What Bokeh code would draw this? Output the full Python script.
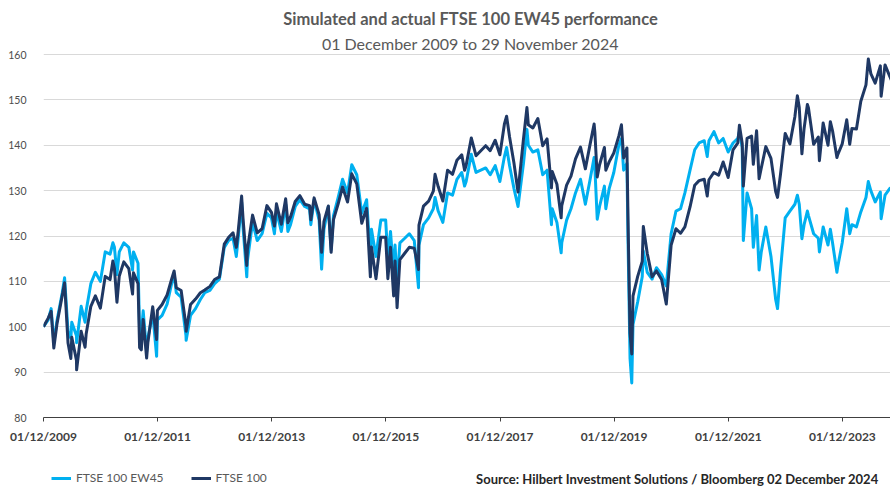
import pandas as pd
from bokeh.plotting import figure
from bokeh.layouts import column
from bokeh.models import (Range1d, FixedTicker, DatetimeTickFormatter, Label,
                          Legend, LegendItem, ColumnDataSource)
from bokeh.embed import file_html
from bokeh.resources import INLINE

# ---------------- data ----------------
dates = [
    "2009-12-01", "2009-12-31",
    "2010-01-19", "2010-02-05", "2010-02-26", "2010-03-31", "2010-04-15", "2010-05-07", "2010-05-25", "2010-05-31", "2010-06-30", "2010-07-01", "2010-07-30", "2010-08-24", "2010-08-31", "2010-09-30", "2010-10-29", "2010-11-30", "2010-12-31",
    "2011-01-31", "2011-02-18", "2011-02-28", "2011-03-16", "2011-03-31", "2011-04-29", "2011-05-31", "2011-06-24", "2011-06-30", "2011-07-29", "2011-08-08", "2011-08-19", "2011-08-31", "2011-09-22", "2011-09-30", "2011-10-31", "2011-11-25", "2011-11-30", "2011-12-30",
    "2012-01-31", "2012-02-29", "2012-03-16", "2012-03-30", "2012-04-30", "2012-05-31", "2012-06-01", "2012-06-29", "2012-07-31", "2012-08-31", "2012-09-28", "2012-10-31", "2012-11-30", "2012-12-31",
    "2013-01-31", "2013-02-28", "2013-03-28", "2013-04-18", "2013-04-30", "2013-05-22", "2013-05-31", "2013-06-24", "2013-06-28", "2013-07-31", "2013-08-30", "2013-09-30", "2013-10-31", "2013-11-29", "2013-12-18", "2013-12-31",
    "2014-01-31", "2014-02-28", "2014-03-14", "2014-03-31", "2014-04-30", "2014-05-30", "2014-06-30", "2014-07-31", "2014-08-08", "2014-08-29", "2014-09-30", "2014-10-16", "2014-10-31", "2014-11-28", "2014-12-16", "2014-12-31",
    "2015-01-30", "2015-02-27", "2015-03-31", "2015-04-27", "2015-05-29", "2015-06-30", "2015-07-31", "2015-08-24", "2015-08-31", "2015-09-29", "2015-10-30", "2015-11-30", "2015-12-14", "2015-12-31",
    "2016-01-20", "2016-01-29", "2016-02-11", "2016-02-29", "2016-03-31", "2016-04-29", "2016-05-31", "2016-06-27", "2016-06-30", "2016-07-29", "2016-08-31", "2016-09-30", "2016-10-11", "2016-10-31", "2016-11-30", "2016-12-30",
    "2017-01-31", "2017-02-28", "2017-03-31", "2017-04-18", "2017-04-28", "2017-05-31", "2017-06-30", "2017-07-31", "2017-08-31", "2017-09-29", "2017-10-31", "2017-11-30", "2017-12-29",
    "2018-01-12", "2018-01-31", "2018-02-28", "2018-03-26", "2018-04-30", "2018-05-22", "2018-05-31", "2018-06-29", "2018-07-31", "2018-08-31", "2018-09-28", "2018-10-26", "2018-10-31", "2018-11-30", "2018-12-27", "2018-12-31",
    "2019-01-31", "2019-02-28", "2019-03-29", "2019-04-30", "2019-05-31", "2019-06-28", "2019-07-26", "2019-07-31", "2019-08-15", "2019-08-30", "2019-09-30", "2019-10-09", "2019-10-31", "2019-11-29", "2019-12-31",
    "2020-01-17", "2020-01-31", "2020-02-21", "2020-02-28", "2020-03-12", "2020-03-23", "2020-03-31", "2020-04-30", "2020-05-29", "2020-06-05", "2020-06-30", "2020-07-31", "2020-08-28", "2020-09-30", "2020-10-30", "2020-11-30", "2020-12-31",
    "2021-01-29", "2021-02-26", "2021-03-31", "2021-04-30", "2021-05-28", "2021-06-30", "2021-07-19", "2021-07-30", "2021-08-31", "2021-09-30", "2021-10-29", "2021-11-30", "2021-12-31",
    "2022-01-31", "2022-02-10", "2022-02-28", "2022-03-07", "2022-03-31", "2022-04-29", "2022-05-10", "2022-05-31", "2022-06-16", "2022-06-30", "2022-07-29", "2022-08-31", "2022-09-30", "2022-10-12", "2022-10-31", "2022-11-30", "2022-12-30",
    "2023-01-31", "2023-02-16", "2023-02-28", "2023-03-17", "2023-03-31", "2023-04-21", "2023-04-28", "2023-05-31", "2023-06-30", "2023-07-07", "2023-07-31", "2023-08-31", "2023-09-15", "2023-09-29", "2023-10-27", "2023-10-31", "2023-11-30", "2023-12-29",
    "2024-01-17", "2024-01-31", "2024-02-29", "2024-03-28", "2024-04-30", "2024-05-15", "2024-05-31", "2024-06-28", "2024-07-31", "2024-08-05", "2024-08-30", "2024-09-30", "2024-10-31", "2024-11-29",
]

ftse100 = [
    100.0, 101.9,
    103.4, 95.3, 100.8, 106.9, 109.7, 96.4, 93.0, 97.7, 92.6, 90.5, 99.0, 95.5, 98.4, 104.5, 106.8, 104.1, 111.1,
    110.4, 114.5, 112.8, 105.4, 111.2, 114.3, 112.8, 107.2, 111.9, 109.5, 95.4, 94.9, 101.6, 93.1, 96.5, 104.4, 97.2, 103.6, 104.9,
    107.0, 110.5, 112.3, 108.6, 108.0, 100.2, 99.0, 104.9, 106.1, 107.5, 108.1, 108.9, 110.4, 111.0,
    118.2, 119.7, 120.7, 117.5, 121.0, 128.8, 123.9, 113.5, 117.0, 124.6, 120.7, 121.6, 126.7, 125.2, 122.2, 127.1,
    122.6, 128.2, 122.9, 124.2, 127.6, 128.9, 127.0, 126.7, 123.6, 128.4, 124.7, 116.4, 123.2, 126.6, 116.4, 123.6,
    127.1, 130.8, 127.5, 133.7, 131.5, 122.8, 126.1, 111.0, 117.6, 110.6, 119.7, 119.7, 110.6, 117.5,
    106.8, 114.5, 104.2, 114.8, 116.2, 117.5, 117.3, 112.6, 122.4, 126.6, 127.7, 129.9, 133.6, 130.9, 127.7, 134.5,
    133.6, 136.7, 137.9, 134.5, 135.6, 141.6, 137.7, 138.8, 139.9, 138.8, 141.1, 137.9, 144.7,
    146.4, 141.8, 136.1, 129.7, 141.4, 148.3, 144.5, 143.8, 145.9, 139.9, 141.4, 130.6, 134.2, 131.4, 124.0, 126.7,
    131.2, 133.2, 137.0, 139.6, 134.8, 139.8, 144.7, 142.8, 133.0, 135.7, 139.5, 134.5, 136.4, 138.3, 142.0,
    144.5, 137.2, 139.4, 123.9, 98.6, 94.0, 106.8, 111.1, 114.4, 122.1, 116.2, 111.0, 112.3, 110.4, 105.0, 118.0, 121.6,
    120.6, 122.0, 126.4, 131.2, 132.2, 132.5, 128.8, 132.4, 134.0, 133.4, 136.3, 132.9, 139.0,
    140.5, 144.4, 140.4, 131.0, 141.5, 142.0, 135.8, 143.2, 132.6, 135.0, 139.7, 137.1, 129.8, 128.5, 133.6, 142.6, 140.3,
    146.3, 150.9, 148.3, 138.1, 143.7, 149.0, 148.2, 140.2, 141.8, 136.6, 144.9, 140.0, 145.2, 143.2, 137.3, 137.8, 140.3, 145.6,
    140.2, 143.7, 143.6, 149.7, 153.3, 159.0, 155.8, 153.7, 157.5, 150.8, 157.7, 155.1, 152.7, 156.0,
]

ew45 = [
    100.0, 101.5,
    104.0, 96.5, 101.5, 107.5, 110.8, 99.0, 97.5, 101.0, 98.0, 96.5, 104.5, 101.0, 103.5, 109.5, 112.0, 110.0, 116.5,
    116.0, 118.5, 117.5, 111.5, 116.5, 118.5, 117.5, 112.5, 116.5, 114.0, 99.0, 98.5, 103.5, 94.5, 97.5, 103.0, 93.5, 101.5, 102.5,
    105.0, 109.5, 111.5, 107.5, 106.5, 98.0, 97.0, 102.5, 104.0, 106.0, 107.5, 108.0, 109.5, 110.5,
    117.5, 119.0, 119.5, 115.5, 119.5, 127.5, 122.0, 111.0, 114.5, 123.0, 119.0, 120.5, 125.0, 124.0, 120.5, 125.5,
    121.0, 127.0, 121.0, 122.5, 126.5, 128.0, 126.5, 126.0, 122.5, 128.0, 123.5, 112.7, 121.5, 126.5, 117.0, 124.5,
    128.5, 132.5, 129.5, 135.7, 133.5, 125.0, 128.0, 115.5, 121.5, 115.5, 123.5, 123.5, 115.0, 121.0,
    111.5, 118.0, 109.5, 118.5, 119.5, 120.5, 119.0, 108.6, 118.0, 122.5, 124.0, 126.0, 128.5, 125.5, 123.0, 129.5,
    129.0, 132.5, 134.0, 131.0, 132.0, 138.0, 134.0, 134.5, 135.0, 133.5, 135.5, 132.0, 137.5,
    139.5, 135.5, 130.5, 126.5, 136.0, 143.5, 140.0, 138.5, 139.0, 133.5, 134.5, 122.5, 126.0, 123.0, 116.3, 118.5,
    123.5, 126.0, 129.5, 132.5, 127.0, 132.0, 137.3, 135.0, 123.7, 126.5, 131.0, 126.0, 130.5, 134.0, 140.0,
    141.5, 134.5, 136.0, 119.0, 93.0, 87.6, 100.5, 105.5, 111.0, 116.7, 112.0, 110.5, 113.0, 111.5, 109.0, 120.5, 125.5,
    126.0, 129.5, 134.5, 139.0, 140.5, 141.0, 137.5, 141.0, 143.0, 140.5, 141.5, 138.5, 140.5,
    141.5, 143.0, 139.5, 119.0, 129.5, 126.0, 117.5, 124.5, 112.5, 116.5, 122.0, 115.5, 106.0, 104.0, 112.5, 124.0, 125.5,
    127.0, 129.0, 127.0, 119.4, 122.5, 125.5, 124.5, 120.5, 119.5, 116.5, 122.0, 118.0, 121.5, 118.5, 112.0, 113.0, 118.5, 126.0,
    120.5, 122.5, 122.0, 125.3, 128.5, 132.0, 130.0, 127.5, 129.7, 123.8, 129.0, 130.5, 129.0, 129.5,
]

series_names = ["FTSE 100 EW45", "FTSE 100"]
series_colors = ["#00B0F0", "#1F3864"]
x_tick_dates = ["2009-12-01", "2011-12-01", "2013-12-01", "2015-12-01",
                "2017-12-01", "2019-12-01", "2021-12-01", "2023-12-01"]
y_ticks = [80, 90, 100, 110, 120, 130, 140, 150, 160]

title_text = "Simulated and actual FTSE 100 EW45 performance"
subtitle_text = "01 December 2009 to 29 November 2024"
source_text = "Source: Hilbert Investment Solutions / Bloomberg   02 December 2024"

# ---------------- layout constants ----------------
W = 890
MAIN_H = 466        # chart (frame from canvas top down to the 80 line)
BOT_H = 20          # legend / source strip
FRAME_L, FRAME_R = 43, 890
FRAME_160, FRAME_80 = 54, 417     # pixel rows of the 160 and 80 gridlines
FONT = "Lato"
GREY = "#595959"
X_START = pd.Timestamp("2009-12-01")
X_END = pd.Timestamp("2024-10-04")

x0_ms = X_START.value / 1e6
x1_ms = X_END.value / 1e6
y_per_px = 80.0 / (FRAME_80 - FRAME_160)
Y_TOP = 80 + FRAME_80 * y_per_px          # value at the canvas top row


def xd(px):
    return x0_ms + (px - FRAME_L) * (x1_ms - x0_ms) / (FRAME_R - FRAME_L)


def yd(py):
    return 80 + (FRAME_80 - py) * y_per_px


# ---------------- main chart ----------------
src = ColumnDataSource(dict(x=pd.to_datetime(dates), ew=ew45, ft=ftse100))

p = figure(width=W, height=MAIN_H, x_axis_type="datetime", output_backend="svg",
           toolbar_location=None, title=None,
           x_range=Range1d(X_START.to_pydatetime(), X_END.to_pydatetime()),
           y_range=Range1d(80, Y_TOP),
           min_border_left=FRAME_L, min_border_right=W - FRAME_R,
           min_border_top=0, min_border_bottom=MAIN_H - FRAME_80)
p.outline_line_color = None
p.background_fill_color = "white"
p.border_fill_color = "white"

p.xgrid.grid_line_color = None
p.ygrid.grid_line_color = "#d9d9d9"
p.ygrid.grid_line_width = 1
p.ygrid.ticker = FixedTicker(ticks=y_ticks)

p.yaxis.ticker = FixedTicker(ticks=y_ticks)
p.yaxis.axis_line_color = None
p.yaxis.major_tick_line_color = None
p.yaxis.minor_tick_line_color = None
p.yaxis.major_label_standoff = 11
p.yaxis.major_label_text_font = FONT
p.yaxis.major_label_text_font_size = "10.5px"
p.yaxis.major_label_text_color = "#4d4d4d"

p.xaxis.ticker = FixedTicker(ticks=[pd.Timestamp(d).value / 1e6 for d in x_tick_dates])
fmt = "%d/%m/%Y"
p.xaxis.formatter = DatetimeTickFormatter(
    microseconds=fmt, milliseconds=fmt, seconds=fmt, minsec=fmt, minutes=fmt,
    hourmin=fmt, hours=fmt, days=fmt, months=fmt, years=fmt)
p.xaxis.axis_line_color = "#404040"
p.xaxis.axis_line_width = 1
p.xaxis.major_tick_line_color = "#404040"
p.xaxis.major_tick_out = 4
p.xaxis.major_tick_in = 0
p.xaxis.minor_tick_line_color = None
p.xaxis.major_label_standoff = 7
p.xaxis.major_label_text_font = FONT
p.xaxis.major_label_text_font_size = "12px"
p.xaxis.major_label_text_font_style = "bold"
p.xaxis.major_label_text_color = "#404040"

p.line("x", "ew", source=src, line_color=series_colors[0], line_width=3,
       line_join="round")
p.line("x", "ft", source=src, line_color=series_colors[1], line_width=3,
       line_join="round")

# title and subtitle (inside the frame, above the 160 gridline)
p.add_layout(Label(x=xd(470), y=yd(18), text=title_text, text_align="center",
                   text_baseline="middle", text_font=FONT,
                   text_font_size="16.5px", text_font_style="bold",
                   text_color=GREY))
p.add_layout(Label(x=xd(470), y=yd(43), text=subtitle_text, text_align="center",
                   text_baseline="middle", text_font=FONT,
                   text_font_size="16px", text_color=GREY))

# ---------------- legend / source strip ----------------
bot = figure(width=W, height=BOT_H, output_backend="svg", toolbar_location=None,
             title=None, x_range=Range1d(0, W), y_range=Range1d(BOT_H, 0),
             x_axis_location=None, y_axis_location=None,
             min_border_left=0, min_border_right=0, min_border_top=0,
             min_border_bottom=0)
bot.grid.visible = False
bot.outline_line_color = None
bot.background_fill_color = "white"
bot.border_fill_color = "white"

# legend swatch renderers, kept outside the visible range
sw_ew = bot.line(x=[-30, -20], y=[5, 5], line_color=series_colors[0], line_width=3)
sw_ft = bot.line(x=[-30, -20], y=[5, 5], line_color=series_colors[1], line_width=3)
legend = Legend(items=[LegendItem(label=series_names[0], renderers=[sw_ew]),
                       LegendItem(label=series_names[1], renderers=[sw_ft])],
                orientation="horizontal", location=(8, 1),
                padding=0, margin=0, spacing=27,
                glyph_width=20, glyph_height=14, label_height=14,
                label_standoff=5,
                label_text_font=FONT, label_text_font_size="12px",
                label_text_color=GREY,
                background_fill_alpha=0, border_line_color=None)
bot.add_layout(legend)
bot.add_layout(Label(x=884, y=12.5, text=source_text, text_align="right",
                     text_baseline="middle", text_font=FONT,
                     text_font_size="13px", text_font_style="bold",
                     text_color="#262626"))

layout = column(p, bot, spacing=0)
open("out.html", "w").write(file_html(layout, INLINE))
